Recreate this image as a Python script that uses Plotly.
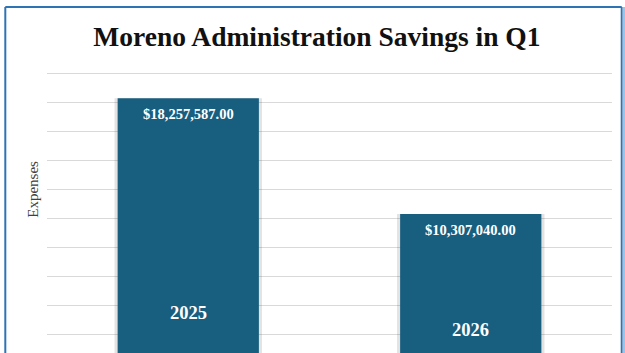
import plotly.graph_objects as go

categories = ["2025", "2026"]
expenses = [18257587.00, 10307040.00]
value_labels = ["$18,257,587.00", "$10,307,040.00"]
title_text = "Moreno Administration Savings in Q1"
y_title = "Expenses"

BAR = "#185E7F"
SERIF = "Liberation Serif, Times New Roman, serif"

fig = go.Figure()

# soft shadow behind bars
fig.add_trace(go.Bar(
    x=categories, y=expenses, width=0.522,
    marker=dict(color="rgba(0,0,0,0.11)", line=dict(width=0)),
    hoverinfo="skip", showlegend=False,
))
fig.add_trace(go.Bar(
    x=categories, y=expenses, width=0.5,
    marker=dict(color=BAR, line=dict(width=0)),
    showlegend=False,
))

annotations = []
# value labels near top of bars
for i, (v, t) in enumerate(zip(expenses, value_labels)):
    annotations.append(dict(
        x=i, y=v, xref="x", yref="y", text="<b>" + t + "</b>", showarrow=False,
        yanchor="top", yshift=-6,
        font=dict(family=SERIF, size=14.5, color="white"),
    ))
# category labels inside bars
cat_label_y = [3.53e6, 2.34e6]
for i, (c, yy) in enumerate(zip(categories, cat_label_y)):
    annotations.append(dict(
        x=i, y=yy, xref="x", yref="y", text="<b>" + c + "</b>", showarrow=False,
        yanchor="middle",
        font=dict(family=SERIF, size=18.5, color="white"),
    ))
# y axis title
annotations.append(dict(
    x=-0.025, y=0.58, xref="paper", yref="paper", text=y_title,
    showarrow=False, textangle=-90, xanchor="center", yanchor="middle",
    font=dict(family=SERIF, size=15, color="#404040"),
))

fig.update_layout(
    width=625, height=353,
    margin=dict(l=47, r=13, t=70, b=0),
    paper_bgcolor="white", plot_bgcolor="white",
    barmode="overlay",
    title=dict(text="<b>" + title_text + "</b>", x=0.507, xanchor="center",
               y=1 - 36 / 353, yanchor="middle",
               font=dict(family=SERIF, size=27.5, color="#111111")),
    xaxis=dict(type="category", range=[-0.5, 1.5], showticklabels=False,
               showgrid=False, zeroline=False, showline=False, ticks=""),
    yaxis=dict(range=[0.756e6, 20.206e6], dtick=2e6, tick0=0,
               showticklabels=False, showgrid=True, gridcolor="#D9D9D9",
               gridwidth=1, zeroline=False, showline=False, ticks=""),
    annotations=annotations,
    shapes=[
        dict(type="line", xref="paper", yref="paper", x0=-0.0738, x1=-0.0738,
             y0=-0.2, y1=1.2227, line=dict(color="#2E74B5", width=2)),
        dict(type="line", xref="paper", yref="paper", x0=-0.0738, x1=1.0172,
             y0=1.2227, y1=1.2227, line=dict(color="#2E74B5", width=2)),
        dict(type="line", xref="paper", yref="paper", x0=1.0172, x1=1.0172,
             y0=-0.2, y1=1.2227, line=dict(color="#2E74B5", width=2)),
        dict(type="line", xref="paper", yref="paper", x0=1.0215, x1=1.0215,
             y0=-0.2, y1=1.2227, line=dict(color="#9DC3E6", width=3)),
    ],
)

fig.write_html("out.html")
